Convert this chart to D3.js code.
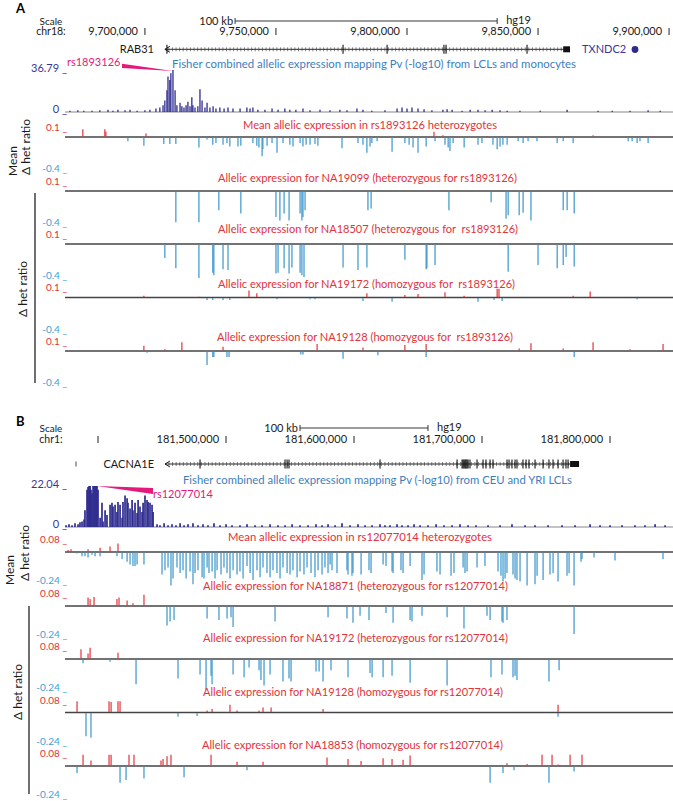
<!DOCTYPE html>
<html><head><meta charset="utf-8">
<script src="https://cdn.jsdelivr.net/npm/d3@7"></script>
<style>body{margin:0;background:#fff}svg{display:block}text{font-family:Lato,"Open Sans",sans-serif;white-space:pre}</style>
</head><body><svg id="c" width="673" height="801"></svg>
<script>
// ---------------- DATA ----------------
// Panel A (chr18, positions in kb)
const aTicks = [9700, 9750, 9800, 9850, 9900];
const aTickLabels = ["9,700,000", "9,750,000", "9,800,000", "9,850,000", "9,900,000"];
const aRab31 = {start: 9707.6, end: 9862.2, thickStart: 9859.6, exons: [9708.4, 9775.6, 9792.4, 9814.1, 9814.9, 9845.8]};
const aTxndc2 = 9887.0;
const aFisherMax = 36.79;
const aFisher = [[9671.4,1],[9674.4,1.5],[9676.7,1],[9679.8,1],[9682.8,1.5],[9685.9,2],[9687.8,1],[9689.7,2],[9692.4,1.5],[9694.3,2],[9697.0,1],[9700.0,1.5],[9701.9,2],[9704.2,3],[9705.7,4],[9706.9,6],[9707.6,10],[9708.4,19],[9708.8,31],[9709.5,28],[9709.9,34],[9710.7,36.79],[9711.5,19],[9712.2,6],[9713.4,8],[9714.1,5],[9714.9,4],[9715.7,6],[9716.4,9],[9717.2,5],[9717.9,13],[9718.3,6],[9719.1,4],[9720.2,5],[9721.0,20],[9721.8,10],[9722.9,4],[9723.7,8],[9724.8,4],[9726.0,5],[9727.1,3],[9728.6,4],[9730.2,3],[9731.7,4],[9733.6,3],[9736.3,3],[9738.9,4],[9740.1,3],[9741.2,4],[9743.1,2],[9745.8,2],[9748.5,3],[9750.8,2],[9753.4,3],[9755.3,2],[9757.6,2],[9760.3,3],[9763.0,1.5],[9766.8,2],[9770.6,1.5],[9774.4,2],[9777.1,1.5],[9780.9,3],[9783.2,2],[9786.6,1],[9791.6,1.5],[9796.2,3],[9798.1,4],[9800.0,3],[9801.9,4],[9804.2,3],[9806.5,2.5],[9809.5,1.5],[9813.7,2],[9815.3,2.5],[9817.2,2],[9821.0,1],[9824.1,2],[9827.1,2],[9829.8,1.5],[9832.5,2],[9835.5,1.5],[9838.2,1],[9843.1,1],[9850.8,1],[9861.1,2],[9872.9,1],[9878.3,1],[9885.1,1],[9892.0,1.5],[9896.6,1]];
const aMean = [[9676.3,0.09],[9684.7,0.09],[9685.1,0.06],[9700.4,0.04],[9745.8,0.01],[9810.3,0.06],[9813.7,0.02],[9830.5,0.01],[9871.0,0.02],[9882.5,0.01],[9893.9,0.01],
 [9693.5,-0.05],[9699.6,-0.1],[9707.2,-0.08],[9709.5,-0.08],[9711.8,-0.08],[9720.6,-0.12],[9723.7,-0.03],[9725.9,-0.09],[9727.1,-0.07],[9729.8,-0.09],[9731.3,-0.07],[9732.4,-0.11],[9735.5,-0.11],[9736.6,-0.1],[9741.2,-0.07],[9742.7,-0.1],[9743.5,-0.12],[9744.7,-0.22],[9745.0,-0.14],[9746.6,-0.1],[9748.5,-0.07],[9750.4,-0.18],[9752.7,-0.07],[9755.3,-0.09],[9756.5,-0.11],[9759.2,-0.07],[9760.3,-0.11],[9761.5,-0.09],[9763.0,-0.09],[9764.9,-0.08],[9766.0,-0.1],[9775.2,-0.13],[9781.3,-0.07],[9783.2,-0.09],[9784.7,-0.18],[9785.9,-0.11],[9786.6,-0.07],[9788.6,-0.05],[9794.3,-0.17],[9799.2,-0.07],[9800.8,-0.09],[9802.3,-0.12],[9804.2,-0.18],[9807.3,-0.11],[9810.7,-0.05],[9814.5,-0.09],[9815.7,-0.12],[9816.4,-0.16],[9817.6,-0.07],[9821.8,-0.12],[9827.1,-0.09],[9828.6,-0.07],[9832.8,-0.09],[9834.4,-0.14],[9835.5,-0.11],[9836.6,-0.09],[9838.2,-0.09],[9842.4,-0.05],[9844.3,-0.07],[9846.2,-0.05],[9849.6,-0.05],[9857.3,-0.07],[9859.6,-0.05],[9863.4,-0.07],[9884.4,-0.05],[9885.9,-0.05],[9887.8,-0.07],[9888.9,-0.05],[9892.0,-0.07]];
const aNA19099 = [[9711.8,-0.36],[9720.6,-0.36],[9728.2,-0.22],[9736.6,-0.26],[9750.0,-0.30],[9751.5,-0.34],[9753.1,-0.26],[9755.0,-0.34],[9759.2,-0.26],[9759.9,-0.34],[9760.3,-0.30],[9761.1,-0.22],[9785.1,-0.22],[9786.3,-0.20],[9816.0,-0.22],[9832.1,-0.13],[9837.8,-0.32],[9838.6,-0.28],[9842.8,-0.28],[9844.3,-0.25],[9847.3,-0.34],[9859.6,-0.22],[9861.1,-0.22],[9863.8,-0.26]];
const aNA18507 = [[9707.6,-0.16],[9711.8,-0.28],[9720.6,-0.39],[9725.9,-0.33],[9726.3,-0.36],[9729.8,-0.29],[9731.7,-0.30],[9750.0,-0.34],[9750.8,-0.33],[9753.1,-0.28],[9755.0,-0.34],[9756.1,-0.27],[9759.2,-0.33],[9759.9,-0.36],[9760.7,-0.38],[9775.6,-0.27],[9781.3,-0.30],[9784.7,-0.27],[9799.2,-0.18],[9807.3,-0.29],[9807.6,-0.28],[9810.7,-0.24],[9838.6,-0.32],[9850.0,-0.24],[9857.3,-0.28],[9859.6,-0.24],[9860.7,-0.15],[9863.8,-0.26]];
const aNA19172 = [[9699.6,0.02],[9720.6,0.01],[9723.7,-0.03],[9725.9,-0.03],[9729.8,-0.03],[9732.4,-0.03],[9739.7,0.08],[9742.7,0.05],[9750.4,-0.02],[9763.0,-0.02],[9764.9,-0.02],[9783.2,-0.04],[9784.7,0.05],[9794.3,-0.05],[9799.2,0.03],[9804.2,0.04],[9814.5,0.06],[9821.8,0.02],[9827.1,-0.05],[9833.2,-0.03],[9834.4,0.10],[9835.1,0.10],[9836.3,-0.04],[9863.4,0.02],[9869.9,0.07],[9887.8,-0.02]];
const aNA19128 = [[9699.6,0.06],[9700.8,-0.02],[9707.6,0.02],[9714.1,0.10],[9723.7,-0.16],[9725.9,-0.07],[9726.3,-0.07],[9729.8,0.05],[9731.3,-0.07],[9732.1,-0.07],[9759.5,-0.04],[9760.3,-0.04],[9765.7,0.08],[9775.6,-0.09],[9783.2,0.04],[9788.9,-0.05],[9799.2,0.07],[9807.3,0.08],[9807.3,-0.07],[9842.8,0.03],[9847.3,0.09],[9859.6,0.03],[9863.8,-0.07],[9871.0,0.10],[9885.1,0.02],[9897.7,0.08]];
const aTitles = ["Mean allelic expression in rs1893126 heterozygotes","Allelic expression for NA19099 (heterozygous for rs1893126)","Allelic expression for NA18507 (heterozygous for  rs1893126)","Allelic expression for NA19172 (homozygous for  rs1893126)","Allelic expression for NA19128 (homozygous for  rs1893126)"];
const aRange = [-0.4, 0.1];
const aRangeLabels = ["-0.4", "0.1"];

// Panel B (chr1, positions in kb)
const bTicks = [181400, 181500, 181600, 181700, 181800];
const bTickLabels = ["", "181,500,000", "181,600,000", "181,700,000", "181,800,000"];
const bCacna = {start: 181452.3, end: 181775.8, thickStart: 181768.8, other: 181382.8,
  exons: [181479.7,181546.1,181547.7,181549.2,181620.3,181680.5,181684.4,181685.2,181686.0,181686.8,181687.5,181688.3,181689.1,181690.6,181696.1,181700.8,181703.1,181706.3,181708.6,181719.5,181721.1,181723.4,181725.8,181727.3,181732.0,181734.4,181736.7,181741.4,181747.7,181752.3,181755.5,181759.4,181763.3,181765.6,181767.2]};
const bFisherMax = 22.04;
const bFisher = [[181375.0,1],[181377.3,1.5],[181379.7,1],[181382.0,2],[181384.4,1.5],[181385.9,2.5],[181387.5,3],[181389.1,4],
 [181389.8,9],[181391.4,20],[181392.2,21.5],[181393.0,22.04],[181393.8,22.04],[181394.5,20],[181395.3,18],[181396.1,22.04],[181396.9,22.04],[181397.7,22.04],[181398.5,22.04],[181399.2,22.04],[181400.0,20],[181401.6,5],[181403.1,13],[181403.9,3],[181405.5,9],[181407.0,6.5],[181409.4,12],[181410.9,13],[181411.7,11],[181413.3,12],[181414.8,8],[181415.6,13.5],[181417.2,12],[181418.8,5],[181419.5,13.5],[181421.1,17],[181422.7,15.5],[181423.4,13],[181425.0,10],[181426.6,14.5],[181427.3,9],[181428.9,13],[181430.5,7.5],[181431.3,14.5],[181432.8,11],[181434.4,8],[181435.2,13],[181436.7,17],[181438.3,14.5],[181439.1,13.5],[181440.6,13],[181442.2,12],[181443.0,8],
 [181446.1,1.5],[181448.4,1],[181451.6,2],[181454.7,1],[181457.8,1.5],[181460.9,1],[181464.1,2],[181467.2,1],[181470.3,1.5],[181474.2,2],[181478.1,1],[181482.0,1.5],[181485.9,1],[181490.6,2],[181495.3,1],[181500.0,1.5],[181504.7,1],[181510.9,1],[181516.4,1.5],[181522.7,1],[181528.1,1],[181534.4,1.5],[181540.6,1],[181546.1,1],[181551.6,1.5],[181557.8,1],[181564.1,1],[181570.3,1.5],[181575.0,1],[181579.7,1.5],[181585.2,1],[181590.6,2],[181596.9,1],[181603.1,1.5],[181608.6,1],[181614.1,1],[181620.3,1.5],[181624.2,1],[181628.1,1],[181633.6,1.5],[181637.5,1],[181642.2,1],[181646.9,1.5],[181651.6,1],[181657.8,1],[181664.1,1.5],[181670.3,1],[181676.6,1],[181682.8,1.5],[181689.1,1],[181695.3,1],[181704.7,1],[181714.1,1],[181723.4,1.5],[181733.6,1],[181741.4,1],[181751.6,1],[181762.5,1],[181772.7,1],[181784.4,1.5],[181792.2,1],[181800.0,1],[181809.4,1],[181819.5,1],[181827.3,1],[181835.2,1.5],[181843.0,1]];
const bMean = [[181376.6,0.015],[181378.9,0.02],[181392.2,0.02],[181401.6,0.03],[181409.4,0.04],[181415.6,0.06],
 [181383.6,-0.01],[181387.5,-0.03],[181389.8,-0.03],[181392.2,-0.04],[181395.3,-0.02],[181397.7,-0.03],[181401.6,-0.03],[181414.8,-0.03],[181418.8,-0.05],[181422.7,-0.07],[181425.0,-0.09],[181427.3,-0.10],[181428.9,-0.10],[181430.5,-0.09],[181435.9,-0.09],[181450.0,-0.16],[181452.3,-0.13],[181454.7,-0.11],[181457.0,-0.24],[181458.6,-0.19],[181461.7,-0.11],[181464.1,-0.15],[181466.4,-0.13],[181468.8,-0.19],[181471.9,-0.14],[181474.2,-0.23],[181475.8,-0.15],[181478.1,-0.13],[181481.3,-0.18],[181482.8,-0.19],[181485.2,-0.11],[181486.7,-0.15],[181489.1,-0.14],[181491.4,-0.19],[181493.0,-0.13],[181496.1,-0.16],[181498.4,-0.11],[181500.8,-0.15],[181503.1,-0.19],[181505.5,-0.13],[181508.6,-0.16],[181510.9,-0.14],[181513.3,-0.19],[181516.4,-0.10],[181518.8,-0.15],[181521.1,-0.20],[181524.2,-0.13],[181526.6,-0.18],[181528.9,-0.11],[181532.0,-0.15],[181534.4,-0.18],[181536.7,-0.13],[181539.8,-0.15],[181542.2,-0.19],[181544.5,-0.11],[181547.7,-0.15],[181550.0,-0.16],[181552.3,-0.13],[181555.5,-0.18],[181557.8,-0.14],[181560.9,-0.16],[181563.3,-0.11],[181566.4,-0.15],[181569.5,-0.18],[181571.9,-0.13],[181575.0,-0.16],[181577.3,-0.11],[181579.7,-0.15],[181581.3,-0.09],[181582.8,-0.13],[181586.7,-0.15],[181594.5,-0.13],[181595.3,-0.16],[181598.4,-0.17],[181599.2,-0.15],[181605.5,-0.16],[181611.7,-0.13],[181613.3,-0.15],[181622.7,-0.09],[181625.0,-0.10],[181629.7,-0.14],[181630.5,-0.15],[181636.7,-0.13],[181638.3,-0.15],[181643.8,-0.10],[181653.1,-0.20],[181654.7,-0.16],[181664.8,-0.14],[181667.2,-0.16],[181675.8,-0.17],[181678.1,-0.15],[181685.2,-0.11],[181686.7,-0.15],[181688.3,-0.14],[181696.1,-0.11],[181702.3,-0.10],[181712.5,-0.14],[181714.8,-0.17],[181716.4,-0.21],[181718.0,-0.19],[181719.5,-0.15],[181724.2,-0.16],[181725.8,-0.19],[181727.3,-0.20],[181729.7,-0.21],[181735.2,-0.24],[181741.4,-0.23],[181743.0,-0.17],[181747.7,-0.20],[181753.1,-0.16],[181755.5,-0.15],[181759.4,-0.21],[181766.4,-0.17],[181768.0,-0.15],[181771.9,-0.24],[181777.3,-0.07],[181778.1,-0.05],[181787.5,-0.04],[181803.9,-0.06],[181841.4,-0.05]];
const bNA18871 = [[181392.2,0.06],[181393.8,0.05],[181396.9,0.065],[181414.8,0.05],[181416.4,0.06],[181422.7,0.04],[181427.3,0.02],[181435.9,0.08],
 [181453.9,-0.14],[181456.3,-0.11],[181459.4,-0.10],[181485.2,-0.09],[181494.5,-0.10],[181500.8,-0.09],[181503.9,-0.08],[181505.5,-0.15],[181538.3,-0.11],[181579.7,-0.08],[181594.5,-0.09],[181599.2,-0.12],[181604.7,-0.07],[181611.7,-0.10],[181625.0,-0.05],[181630.5,-0.12],[181643.8,-0.10],[181645.3,-0.11],[181653.1,-0.07],[181672.7,-0.08],[181685.9,-0.16],[181703.9,-0.07],[181706.3,-0.10],[181715.6,-0.11],[181716.4,-0.12],[181719.5,-0.10],[181771.9,-0.20]];
const bNA19172 = [[181386.7,0.07],[181392.2,0.04],[181393.8,0.08],[181415.6,0.045],
 [181388.3,-0.03],[181409.4,-0.02],[181429.7,-0.18],[181462.5,-0.14],[181479.7,-0.11],[181484.4,-0.22],[181488.3,-0.12],[181489.1,-0.18],[181505.5,-0.11],[181514.1,-0.13],[181518.0,-0.06],[181525.8,-0.08],[181527.3,-0.15],[181529.7,-0.19],[181534.4,-0.11],[181544.5,-0.16],[181549.2,-0.14],[181550.8,-0.16],[181570.3,-0.09],[181572.7,-0.09],[181575.8,-0.16],[181582.0,-0.08],[181595.3,-0.13],[181612.5,-0.10],[181614.1,-0.13],[181622.7,-0.13],[181629.7,-0.12],[181643.8,-0.17],[181672.7,-0.19],[181707.0,-0.13],[181715.6,-0.11],[181724.2,-0.13],[181725.8,-0.12],[181727.3,-0.15],[181752.3,-0.16],[181760.2,-0.08]];
const bNA19128 = [[181383.6,0.08],[181408.6,0.08],[181410.2,0.075],[181415.6,0.08],[181417.2,0.08],[181485.2,0.015],[181489.1,0.025],[181503.1,0.055],[181508.6,0.015],[181525.8,0.015],[181528.9,0.035],[181535.2,0.035],[181575.8,0.025],[181759.4,0.055],
 [181390.6,-0.17],[181394.5,-0.18],[181462.5,-0.03],[181477.4,-0.025],[181759.4,-0.03]];
const bNA18853 = [[181388.3,0.08],[181394.5,0.04],[181408.6,0.08],[181410.2,0.08],[181424.2,0.08],[181428.1,0.08],[181449.2,0.04],[181450.8,0.05],[181453.9,0.07],[181457.0,0.08],[181488.3,0.08],[181508.6,0.03],[181528.9,0.03],[181578.9,0.06],[181595.3,0.05],[181605.5,0.035],[181622.7,0.055],[181629.7,0.05],[181638.3,0.045],[181643.8,0.075],[181719.5,0.02],[181729.7,0.005],[181735.2,0.015],[181740.6,0.005],[181746.9,0.08],[181754.7,0.08],[181759.4,0.01],[181768.8,0.08],[181778.1,0.08],
 [181383.6,-0.05],[181417.2,-0.12],[181421.9,-0.10],[181435.9,-0.09],[181467.2,-0.08],[181516.4,-0.03],[181706.3,-0.12],[181716.4,-0.05],[181725.0,-0.03],[181752.3,-0.12],[181771.9,-0.04]];
const bTitles = ["Mean allelic expression in rs12077014 heterozygotes","Allelic expression for NA18871 (heterozygous for rs12077014)","Allelic expression for NA19172 (heterozygous for rs12077014)","Allelic expression for NA19128 (homozygous for rs12077014)","Allelic expression for NA18853 (homozygous for rs12077014)"];
const bRange = [-0.24, 0.08];
const bRangeLabels = ["-0.24", "0.08"];

// ---------------- DRAWING ----------------
const svg = d3.select("#c");
const XL = 65, XR = 673;
const COL = {navy:"#2e2b8f", navyTxt:"#3a379b", pink:"#e5197a", blueTitle:"#3d7ec0",
             red:"#e2323a", blueBar:"#3a95cb", blueLbl:"#42a0d8", dark:"#1a1a1a", base:"#444"};

function T(x, y, s, o) {
  o = o || {};
  const t = svg.append("text").attr("x", x).attr("y", y).text(s)
    .attr("font-size", o.size || 11).attr("fill", o.fill || COL.dark)
    .attr("text-anchor", o.anchor || "start");
  if (o.weight) t.attr("font-weight", o.weight);
  if (o.family) t.attr("font-family", o.family);
  if (o.len) t.attr("textLength", o.len).attr("lengthAdjust", "spacingAndGlyphs");
  if (o.rot) t.attr("transform", `rotate(-90,${x},${y})`).attr("dominant-baseline", "central");
  return t;
}
function L(x1, y1, x2, y2, c, w) {
  return svg.append("line").attr("x1", x1).attr("y1", y1).attr("x2", x2).attr("y2", y2)
    .attr("stroke", c).attr("stroke-width", w);
}

function header(p) {
  const x = p.x;
  T(p.lx, p.ly, p.letter, {size: 13, weight: "bold", family: "Arial, Liberation Sans, sans-serif", fill: "#000"});
  T(p.sx, p.scaleY, "Scale", {anchor: "middle", size: 10});
  T(p.sx, p.tickY, p.chr, {anchor: "middle", size: 10.5});
  const b0 = x(p.barStart), b1 = x(p.barStart + 100);
  L(b0, p.barY, b1, p.barY, "#222", 0.9);
  L(b0, p.barY - 3, b0, p.barY + 3, "#222", 0.9);
  L(b1, p.barY - 3, b1, p.barY + 3, "#222", 0.9);
  T(b0 - 2, p.barY + 3.5, "100 kb", {anchor: "end"});
  T(b1 + 9, p.barY + 2.5, "hg19");
  p.ticks.forEach((t, i) => {
    const tx = x(t);
    L(tx, p.tickY - 7, tx, p.tickY, "#222", 1);
    if (p.labels[i]) T(tx - 7, p.tickY, p.labels[i], {anchor: "end"});
  });
}

function gene(x, y, g, name, nameX) {
  const s = x(g.start), e = x(g.end), ts = x(g.thickStart);
  L(s, y, e, y, "#111", 0.9);
  d3.range(s + 4, ts - 1, 3.6).forEach(px => L(px, y - 2, px, y + 2, "#333", 0.6));
  svg.append("path").attr("d", `M${s + 5},${y - 3} L${s},${y} L${s + 5},${y + 3}`)
    .attr("fill", "none").attr("stroke", "#111").attr("stroke-width", 0.9);
  g.exons.forEach(ex => L(x(ex), y - 4.5, x(ex), y + 4.5, "#111", 1.1));
  svg.append("rect").attr("x", ts).attr("y", y - 3).attr("width", e - ts).attr("height", 6).attr("fill", "#111");
  T(nameX, y + 4, name, {anchor: "end"});
}

function fisher(x, data, max, base, top, maxLabel, bw) {
  const y = d3.scaleLinear().domain([0, max]).range([base, top]);
  L(XL, base, XR, base, "#555", 0.7);
  svg.append("g").selectAll("line").data(data).join("line")
    .attr("x1", d => x(d[0])).attr("x2", d => x(d[0]))
    .attr("y1", y(0)).attr("y2", d => y(d[1]))
    .attr("stroke", COL.navy).attr("stroke-width", bw);
  T(XL + 2, y(max) + 2, maxLabel + " _", {anchor: "end", fill: COL.navyTxt});
  T(XL + 2, base + 1, "0 _", {anchor: "end", fill: COL.navyTxt});
  return y;
}

function tracks(x, datas, titles, range, rlabels, lay) {
  datas.forEach((data, i) => {
    const base = lay.bases[i];
    const y = d3.scaleLinear().domain([0, 1]).range([base, base - lay.k]);
    T(lay.cx[i], base + lay.tdy[i], titles[i], {anchor: "middle", fill: COL.red, len: lay.tlen[i]});
    L(XL, base, XR, base, COL.base, 1.3);
    svg.append("g").selectAll("line").data(data).join("line")
      .attr("x1", d => x(d[0])).attr("x2", d => x(d[0]))
      .attr("y1", d => d[1] > 0 ? y(0) - 0.6 : y(0) + 0.6).attr("y2", d => y(d[1]))
      .attr("stroke", d => d[1] > 0 ? COL.red : COL.blueBar).attr("stroke-width", 1.2);
    T(XL + 2, y(range[1]) + 2.5, rlabels[1] + " _", {anchor: "end", fill: COL.red, size: 10});
    T(XL + 2, y(range[0]) + lay.minDy, rlabels[0] + " _", {anchor: "end", fill: COL.blueLbl, size: 10});
  });
}

// ---------- Panel A ----------
const xA = d3.scaleLinear().domain([9669.5, 9901.5]).range([XL, XR]);
header({x: xA, letter: "A", lx: 16, ly: 13, sx: 51, scaleY: 24.5, tickY: 35, chr: "chr18:",
        barStart: 9734.4, barY: 21, ticks: aTicks, labels: aTickLabels});
gene(xA, 49.3, aRab31, "RAB31", 154);
T(582, 53.3, "TXNDC2", {fill: COL.navyTxt});
svg.append("circle").attr("cx", xA(aTxndc2)).attr("cy", 49.5).attr("r", 3.4).attr("fill", COL.navy);

const yFA = fisher(xA, aFisher, aFisherMax, 112, 70, "36.79", 1.3);
T(172, 68, "Fisher combined allelic expression mapping Pv (-log10) from LCLs and monocytes", {fill: COL.blueTitle, len: 404});
T(67, 66, "rs1893126", {fill: COL.pink});
const peakA = aFisher.find(d => d[1] === aFisherMax);
svg.append("path").attr("d", `M122,63.8 L122,68 L${xA(peakA[0])},${yFA(peakA[1]) + 1} Z`).attr("fill", COL.pink);

tracks(xA, [aMean, aNA19099, aNA18507, aNA19172, aNA19128], aTitles, aRange, aRangeLabels,
  {bases: [137, 191, 244, 297.5, 351], k: 87, cx: [370, 367.5, 368, 366.5, 365],
   tlen: [254, 299, 300, 297, 296], tdy: [-8, -9.5, -11, -10, -10.5], minDy: 0.5});

T(12, 161, "Mean", {rot: true, anchor: "middle", size: 12});
T(25, 147, "Δ het ratio", {rot: true, anchor: "middle", size: 12});
T(22, 289, "Δ het ratio", {rot: true, anchor: "middle", size: 12});
L(35, 193, 35, 383, "#333", 1.4);

// ---------- Panel B ----------
const xB = d3.scaleLinear().domain([181374.2, 181849.2]).range([XL, XR]);
header({x: xB, letter: "B", lx: 16, ly: 426, sx: 51, scaleY: 431.5, tickY: 443, chr: "chr1:",
        barStart: 181557.8, barY: 428, ticks: bTicks, labels: bTickLabels});
L(xB(bCacna.other), 461.5, xB(bCacna.other), 466.5, "#333", 0.9);
gene(xB, 464, bCacna, "CACNA1E", 154);

const yFB = fisher(xB, bFisher, bFisherMax, 527, 486, "22.04", 1.7);
T(183, 484, "Fisher combined allelic expression mapping Pv (-log10) from CEU and YRI LCLs", {fill: COL.blueTitle, len: 389});
T(153, 497.5, "rs12077014", {fill: COL.pink});
const peakB = bFisher.filter(d => d[1] === bFisherMax).pop();
svg.append("path").attr("d", `M${xB(peakB[0])},${yFB(peakB[1])} L153,488 L153,494 Z`).attr("fill", COL.pink);

tracks(xB, [bMean, bNA18871, bNA19172, bNA19128, bNA18853], bTitles, bRange, bRangeLabels,
  {bases: [552, 606, 659, 712.5, 766], k: 140, cx: [360, 355.5, 355.5, 353, 352.5],
   tlen: [264, 305, 305, 300, 301], tdy: [-11.5, -16, -17, -16.5, -17], minDy: -1.5});

T(9, 570, "Mean", {rot: true, anchor: "middle", size: 12});
T(24, 553, "Δ het ratio", {rot: true, anchor: "middle", size: 12});
T(17, 692, "Δ het ratio", {rot: true, anchor: "middle", size: 12});
L(29, 606, 29, 794, "#333", 1.4);
</script></body></html>
